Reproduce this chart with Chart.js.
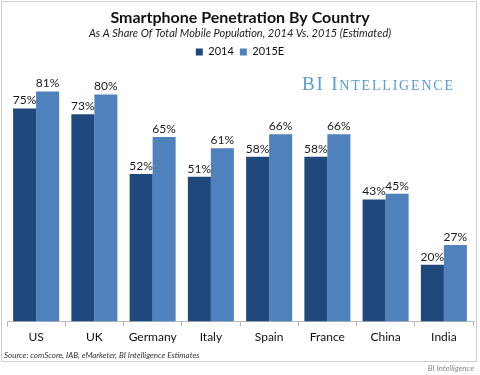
<!DOCTYPE html>
<html>
  <head>
    <title>Smartphone Penetration By Country</title>
    <script src="https://cdn.jsdelivr.net/npm/chart.js@4.4.0/dist/chart.umd.min.js"></script>
    <style>
      html, body { margin: 0; padding: 0; background: #fff; }
      #wrap { width: 480px; height: 375px; position: relative; }
    </style>
  </head>
  <body>
    <div id="wrap">
      <canvas id="canvas"></canvas>
    </div>
    <script>
      const countries = ['US', 'UK', 'Germany', 'Italy', 'Spain', 'France', 'China', 'India'];
      const share2014 = [75, 73, 52, 51, 58, 58, 43, 20];
      const share2015 = [81, 80, 65, 61, 66, 66, 45, 27];

      const FONT = 'Lato, "Open Sans", sans-serif';

      // frame, watermark, source line and value labels
      const decor = {
        id: 'decor',
        beforeDraw(chart) {
          const ctx = chart.ctx;
          ctx.save();
          ctx.strokeStyle = '#d0d0d0';
          ctx.lineWidth = 1;
          ctx.strokeRect(1.5, 1.5, 475, 360);
          ctx.restore();
        },
        afterDatasetsDraw(chart) {
          const ctx = chart.ctx;
          ctx.save();
          ctx.fillStyle = '#1a1a1a';
          ctx.font = '12px ' + FONT;
          ctx.textAlign = 'center';
          ctx.textBaseline = 'bottom';
          chart.data.datasets.forEach((ds, i) => {
            chart.getDatasetMeta(i).data.forEach((bar, j) => {
              ctx.fillText(ds.data[j] + '%', bar.x, bar.y - 2);
            });
          });

          // watermark, spread to fill its box
          ctx.fillStyle = '#5b9bd5';
          ctx.textAlign = 'left';
          ctx.textBaseline = 'alphabetic';
          const parts = [['B', 19], ['I', 19], [' ', 19], ['I', 19]];
          'NTELLIGENCE'.split('').forEach(c => parts.push([c, 14]));
          let natural = 0;
          parts.forEach(([c, s]) => {
            ctx.font = s + 'px "Liberation Serif", serif';
            natural += ctx.measureText(c).width;
          });
          const gap = (151 - natural) / (parts.length - 1);
          let x = 302;
          parts.forEach(([c, s]) => {
            ctx.font = s + 'px "Liberation Serif", serif';
            ctx.fillText(c, x, 90);
            x += ctx.measureText(c).width + gap;
          });

          ctx.fillStyle = '#333';
          ctx.font = 'italic 8px ' + FONT;
          ctx.fillText('Source: comScore, IAB, eMarketer, BI Intelligence Estimates', 4, 358);

          ctx.fillStyle = '#888';
          ctx.textAlign = 'right';
          ctx.font = 'italic 8px ' + FONT;
          ctx.fillText('BI Intelligence', 474, 371);
          ctx.restore();
        }
      };

      const ctx = document.getElementById('canvas').getContext('2d');
      new Chart(ctx, {
        type: 'bar',
        data: {
          labels: countries,
          datasets: [
            { label: '2014', data: share2014, backgroundColor: '#1f497d' },
            { label: '2015E', data: share2015, backgroundColor: '#4f81bd' }
          ]
        },
        plugins: [decor],
        options: {
          responsive: true,
          maintainAspectRatio: false,
          animation: false,
          layout: { padding: { left: 7, right: 7, top: 0, bottom: 28 } },
          datasets: { bar: { barPercentage: 1, categoryPercentage: 0.79 } },
          plugins: {
            title: {
              display: true,
              text: 'Smartphone Penetration By Country',
              color: '#111',
              font: { family: FONT, size: 16, weight: 'bold' },
              padding: { top: 8, bottom: 0 }
            },
            subtitle: {
              display: true,
              text: 'As A Share Of Total Mobile Population, 2014 Vs. 2015 (Estimated)',
              color: '#222',
              font: { family: FONT, size: 11, style: 'italic' },
              padding: { top: 0, bottom: 0 }
            },
            legend: {
              display: true,
              labels: {
                boxWidth: 7,
                boxHeight: 7,
                padding: 6,
                color: '#111',
                font: { family: FONT, size: 11 }
              }
            },
            tooltip: { enabled: false }
          },
          scales: {
            x: {
              grid: { display: true, drawOnChartArea: false, drawTicks: true, tickLength: 5, color: '#bbb', offset: true },
              border: { display: true, color: '#bbb' },
              ticks: { color: '#111', font: { family: FONT, size: 12 }, padding: 3 }
            },
            y: {
              display: false,
              min: 0,
              max: 89.5
            }
          }
        }
      });
    </script>
  </body>
</html>
